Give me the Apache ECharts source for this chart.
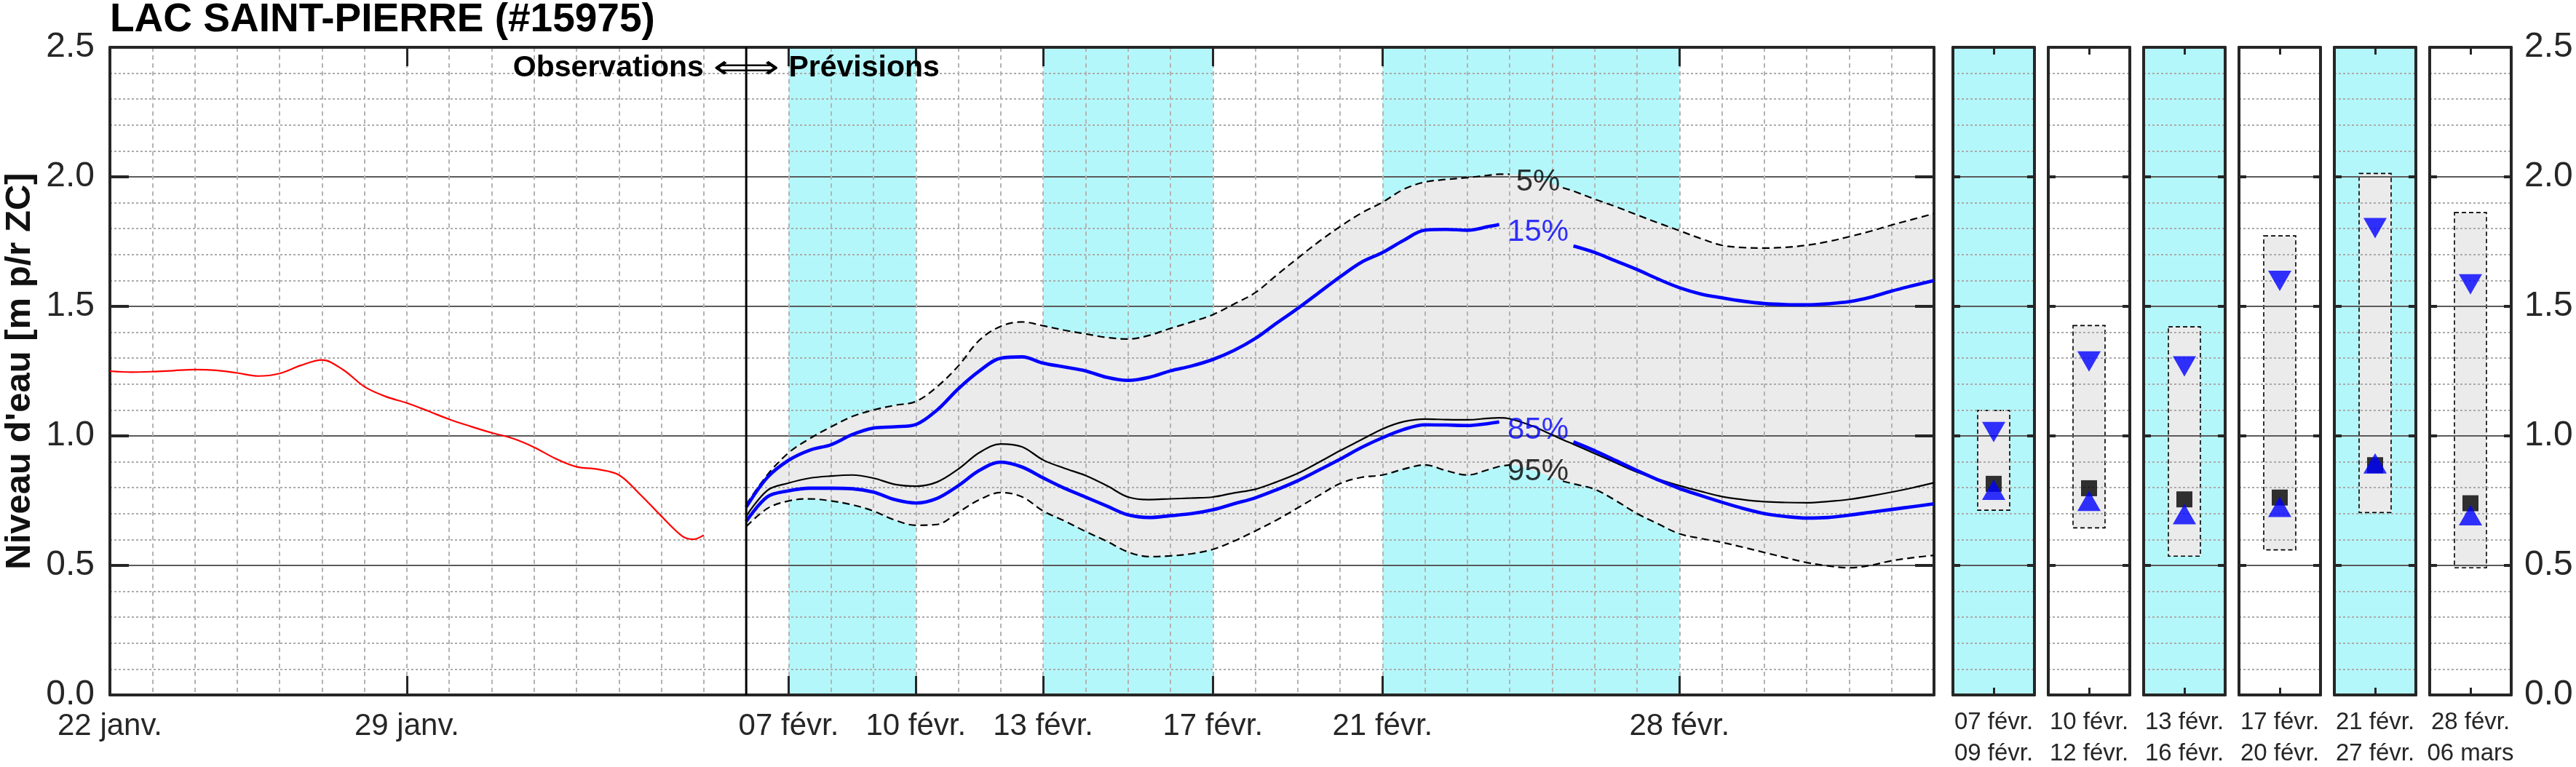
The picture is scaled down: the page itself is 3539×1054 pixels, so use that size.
<!DOCTYPE html>
<html><head><meta charset="utf-8">
<script src="https://cdn.jsdelivr.net/npm/echarts@6/dist/echarts.min.js"></script>
<style>html,body{margin:0;padding:0;background:#fff}#c{width:3539px;height:1054px}</style>
</head><body><div id="c"></div>
<script>
// ---------------- DATA ----------------
const YEAR = 2025;
const titleText = 'LAC SAINT-PIERRE (#15975)';
const yTitle = "Niveau d'eau [m p/r ZC]";
const axisStart = '01-22 00';
const axisEnd = '03-06 00';
const yMin = 0, yMax = 2.5, yStep = 0.5, yMinorSplit = 5;
const tickDates = ['01-22 00','01-29 00','02-07 00','02-10 00','02-13 00','02-17 00','02-21 00','02-28 00'];
const tickLabels = ['22 janv.','29 janv.','07 févr.','10 févr.','13 févr.','17 févr.','21 févr.','28 févr.'];
const forecastStart = '02-06 00';
const shadedPeriods = [['02-07 00','02-10 00'],['02-13 00','02-17 00'],['02-21 00','02-28 00']];

const obsTimes = ['01-22 00','01-22 12','01-23 00','01-23 12','01-24 00','01-24 12','01-25 00','01-25 12','01-26 00','01-26 12',
  '01-27 00','01-27 12','01-28 00','01-28 12','01-29 00','01-29 12','01-30 00','01-30 12','01-31 00','01-31 12',
  '02-01 00','02-01 12','02-02 00','02-02 12','02-03 00','02-03 12','02-04 00','02-04 12','02-04 18','02-05 00'];
const obsLevel = [1.250,1.246,1.248,1.252,1.256,1.253,1.243,1.231,1.241,1.272,
  1.293,1.255,1.190,1.152,1.127,1.096,1.064,1.037,1.012,0.990,
  0.956,0.913,0.881,0.871,0.849,0.774,0.690,0.612,0.601,0.617];

const fcTimes = ['02-06 00','02-06 12','02-07 00','02-07 12','02-08 00','02-08 12','02-09 00','02-09 12','02-10 00','02-10 12',
  '02-11 00','02-11 12','02-12 00','02-12 12','02-13 00','02-13 12','02-14 00','02-14 12','02-15 00','02-15 12',
  '02-16 00','02-16 12','02-17 00','02-17 12','02-18 00','02-18 12','02-19 00','02-19 12','02-20 00','02-20 12',
  '02-21 00','02-21 12','02-22 00','02-22 12','02-23 00','02-23 12','02-23 18','02-24 00','02-24 12','02-25 00',
  '02-25 06','02-25 12','02-26 00','02-26 12','02-27 00','02-27 12','02-28 00','02-28 12','03-01 00','03-01 12',
  '03-02 00','03-02 12','03-03 00','03-03 12','03-04 00','03-04 12','03-05 00','03-05 12','03-06 00'];
const p5 = [0.735,0.85,0.935,0.99,1.035,1.075,1.10,1.118,1.133,1.19,
  1.27,1.37,1.423,1.44,1.425,1.408,1.394,1.38,1.374,1.388,
  1.415,1.44,1.468,1.509,1.553,1.62,1.686,1.75,1.808,1.86,
  1.902,1.952,1.98,1.99,1.997,2.006,2.01,2.01,2.0,1.975,
  1.958,1.945,1.914,1.885,1.853,1.822,1.792,1.762,1.736,1.727,
  1.725,1.728,1.736,1.75,1.769,1.79,1.814,1.836,1.858];
const p15 = [0.725,0.84,0.906,0.945,0.966,1.005,1.03,1.035,1.044,1.10,
  1.182,1.251,1.30,1.305,1.281,1.266,1.251,1.226,1.214,1.226,
  1.251,1.27,1.295,1.33,1.376,1.435,1.492,1.553,1.614,1.67,
  1.708,1.755,1.794,1.797,1.794,1.808,1.816,1.82,1.81,1.78,
  1.755,1.733,1.708,1.675,1.642,1.605,1.572,1.548,1.533,1.52,
  1.511,1.507,1.506,1.51,1.518,1.535,1.559,1.58,1.60];
const pMid = [0.69,0.79,0.818,0.837,0.845,0.849,0.837,0.813,0.806,0.822,
  0.872,0.936,0.969,0.958,0.907,0.875,0.847,0.808,0.764,0.754,
  0.757,0.76,0.764,0.78,0.794,0.822,0.855,0.898,0.943,0.985,
  1.027,1.055,1.065,1.063,1.062,1.068,1.07,1.066,1.04,1.004,
  0.985,0.968,0.932,0.896,0.86,0.833,0.808,0.786,0.766,0.754,
  0.746,0.743,0.742,0.747,0.755,0.768,0.783,0.80,0.819];
const p85 = [0.67,0.765,0.788,0.798,0.798,0.796,0.783,0.754,0.741,0.759,
  0.808,0.867,0.899,0.88,0.838,0.798,0.764,0.729,0.695,0.685,
  0.692,0.70,0.715,0.738,0.761,0.792,0.827,0.868,0.91,0.955,
  0.993,1.025,1.043,1.042,1.04,1.048,1.054,1.05,1.03,1.005,
  0.99,0.977,0.943,0.905,0.866,0.83,0.797,0.77,0.744,0.72,
  0.70,0.689,0.683,0.685,0.694,0.705,0.716,0.727,0.738];
const p95 = [0.65,0.72,0.749,0.757,0.749,0.734,0.71,0.675,0.655,0.658,
  0.705,0.754,0.781,0.765,0.71,0.672,0.631,0.593,0.552,0.534,
  0.537,0.545,0.562,0.594,0.633,0.675,0.722,0.77,0.816,0.84,
  0.849,0.872,0.888,0.866,0.849,0.87,0.882,0.888,0.87,0.84,
  0.825,0.815,0.794,0.75,0.70,0.66,0.622,0.604,0.589,0.57,
  0.55,0.53,0.511,0.498,0.491,0.50,0.518,0.53,0.539];
// label gaps (open intervals where the curve is interrupted by its label)
const gap5 = ['02-24 00','02-25 06'];
const gap15 = ['02-23 18','02-25 12'];
const gap85 = ['02-23 18','02-25 12'];
const gap95 = ['02-24 00','02-25 06'];
const pctText = ['5%','15%','85%','95%'];
const pctTime = ['02-24 16','02-24 16','02-24 16','02-24 16'];
const pctLevel = [1.98, 1.784, 1.021, 0.86];

const periodLabels = ['07 févr.\n09 févr.','10 févr.\n12 févr.','13 févr.\n16 févr.','17 févr.\n20 févr.','21 févr.\n27 févr.','28 févr.\n06 mars'];
const periodHigh = [1.098, 1.426, 1.421, 1.772, 2.013, 1.862];
const periodLow = [0.713, 0.645, 0.536, 0.560, 0.704, 0.491];
const period15 = [1.015, 1.287, 1.268, 1.598, 1.802, 1.585];
const periodMid = [0.815, 0.798, 0.755, 0.762, 0.887, 0.740];
const period85 = [0.792, 0.749, 0.698, 0.726, 0.894, 0.694];
const periodShaded = [true, false, true, false, true, false];

// ---------------- HELPERS ----------------
function toMs(s){ const [md,h] = s.split(' '); const [M,D] = md.split('-').map(Number); return Date.UTC(YEAR, M-1, D, +h); }
const T0 = toMs(axisStart);
function dayOf(s){ return (toMs(s) - T0) / 864e5; }
const nDays = Math.round(dayOf(axisEnd));
const dayCats = Array.from({length: nDays + 1}, (_, i) => String(i));
const labelOf = {};
tickDates.forEach((t, i) => { labelOf[Math.round(dayOf(t))] = tickLabels[i]; });
const fcX = fcTimes.map(dayOf);
function gapped(vals, gap){
  const a = dayOf(gap[0]), b = dayOf(gap[1]);
  return fcX.map((x, i) => (x > a + 1e-9 && x < b - 1e-9) ? [x, '-'] : [x, vals[i]]);
}

const FONT = 'Liberation Sans, Arial, sans-serif';
const DARK = '#262626';
const CYAN = '#b4f7fa';
const MAJOR = {color:'#5a5a5a', width:2};
const MINOR = {color:'#ababab', width:2, type:[3,3]};
const SM = 0.35;

// ---------------- LAYOUT ----------------
const mainGrid = {left:151, top:65, width:2506, height:890};
const panelLeft0 = 2683, panelStep = 131, panelW = 112;

const grids = [Object.assign({show:false, z:-10, outerBoundsMode:'none', containLabel:false}, mainGrid)];
const xAxes = [
  {gridIndex:0, type:'value', min:0, max:nDays, interval:1, position:'top',
   axisLine:{show:false, onZero:false}, axisTick:{show:false}, axisLabel:{show:false},
   splitLine:{show:true, lineStyle:{color:'#b3b3b3', width:2, type:[6,5]}}},
  {gridIndex:0, type:'category', data:dayCats, boundaryGap:false, position:'bottom',
   axisLine:{show:true, onZero:false, lineStyle:{color:DARK, width:4}},
   axisTick:{show:true, inside:true, length:26, interval:(i)=>labelOf[i]!==undefined, lineStyle:{color:DARK, width:3}},
   axisLabel:{show:true, interval:(i)=>labelOf[i]!==undefined, formatter:(v)=>labelOf[+v] || '', fontSize:42, color:DARK, margin:22, fontFamily:FONT},
   splitLine:{show:false}},
  {gridIndex:0, type:'category', data:dayCats, boundaryGap:false, position:'top',
   axisLine:{show:true, onZero:false, lineStyle:{color:DARK, width:4}},
   axisTick:{show:true, inside:true, length:26, interval:(i)=>labelOf[i]!==undefined, lineStyle:{color:DARK, width:3}},
   axisLabel:{show:false}, splitLine:{show:false}}
];
const yAxes = [
  {gridIndex:0, type:'value', min:yMin, max:yMax, interval:yStep, position:'left',
   axisLine:{show:true, onZero:false, lineStyle:{color:DARK, width:4}},
   axisTick:{show:true, inside:true, length:26, lineStyle:{color:DARK, width:4}},
   axisLabel:{show:true, fontSize:48, color:DARK, margin:21, fontFamily:FONT, formatter:v=>v.toFixed(1)},
   splitLine:{show:true, lineStyle:MAJOR},
   minorTick:{show:false, splitNumber:yMinorSplit}, minorSplitLine:{show:true, lineStyle:MINOR}},
  {gridIndex:0, type:'value', min:yMin, max:yMax, interval:yStep, position:'right',
   axisLine:{show:true, onZero:false, lineStyle:{color:DARK, width:4}},
   axisTick:{show:true, inside:true, length:26, lineStyle:{color:DARK, width:4}},
   axisLabel:{show:false}, splitLine:{show:false}}
];

const series = [];
// shaded periods
series.push({type:'custom', xAxisIndex:0, yAxisIndex:0, z:-8, silent:true,
  data: shadedPeriods.map(p => [dayOf(p[0]), dayOf(p[1])]),
  renderItem:(params, api) => {
    const cs = params.coordSys;
    const x0 = api.coord([api.value(0), yMin])[0], x1 = api.coord([api.value(1), yMin])[0];
    return {type:'rect', shape:{x:x0, y:cs.y, width:x1 - x0, height:cs.height}, style:{fill:CYAN}};
  }});
// 5-95 band: stacked on the level dimension (level first in each item, time mapped via encode)
series.push({type:'line', xAxisIndex:0, yAxisIndex:0, stack:'band', smooth:SM, symbol:'none', silent:true, z:-5,
  encode:{x:1, y:0}, lineStyle:{width:0, opacity:0}, data: fcX.map((x, i) => [p95[i], x])});
series.push({type:'line', xAxisIndex:0, yAxisIndex:0, stack:'band', smooth:SM, symbol:'none', silent:true, z:-5,
  encode:{x:1, y:0}, lineStyle:{width:0, opacity:0}, areaStyle:{color:'#ebebeb', opacity:1},
  data: fcX.map((x, i) => [+(p5[i] - p95[i]).toFixed(4), x])});
// observations
series.push({type:'line', xAxisIndex:0, yAxisIndex:0, smooth:SM, symbol:'none', z:3,
  lineStyle:{color:'#ff0000', width:2.2}, data: obsTimes.map((t, i) => [dayOf(t), obsLevel[i]])});
// forecast curves
series.push({type:'line', xAxisIndex:0, yAxisIndex:0, smooth:SM, symbol:'none', z:3,
  lineStyle:{color:'#000', width:2.2, type:[10,6]}, data: gapped(p5, gap5)});
series.push({type:'line', xAxisIndex:0, yAxisIndex:0, smooth:SM, symbol:'none', z:3,
  lineStyle:{color:'#000', width:2.2, type:[10,6]}, data: gapped(p95, gap95)});
series.push({type:'line', xAxisIndex:0, yAxisIndex:0, smooth:SM, symbol:'none', z:3,
  lineStyle:{color:'#000', width:2.2}, data: fcX.map((x, i) => [x, pMid[i]])});
series.push({type:'line', xAxisIndex:0, yAxisIndex:0, smooth:SM, symbol:'none', z:4,
  lineStyle:{color:'#0000ff', width:4.6}, data: gapped(p15, gap15)});
series.push({type:'line', xAxisIndex:0, yAxisIndex:0, smooth:SM, symbol:'none', z:4,
  lineStyle:{color:'#0000ff', width:4.6}, data: gapped(p85, gap85)});
// divider
series.push({type:'line', xAxisIndex:0, yAxisIndex:0, symbol:'none', z:5, silent:true,
  lineStyle:{color:'#000', width:3}, data:[[dayOf(forecastStart), yMin], [dayOf(forecastStart), yMax]]});
// percentile labels
const pctColor = ['#000', '#0000ff', '#0000ff', '#000'];
series.push({type:'scatter', xAxisIndex:0, yAxisIndex:0, symbolSize:1, z:6, silent:true,
  itemStyle:{color:'rgba(0,0,0,0)'},
  label:{show:true, position:'inside', fontSize:42, fontFamily:FONT},
  data: pctText.map((t, i) => ({value:[dayOf(pctTime[i]), pctLevel[i]], label:{formatter:t, color:pctColor[i]}}))});

// side panels
periodLabels.forEach((lab, k) => {
  const g = k + 1;
  grids.push({left: panelLeft0 + k * panelStep, top: mainGrid.top, width: panelW, height: mainGrid.height,
    show:true, backgroundColor: periodShaded[k] ? CYAN : '#ffffff', borderWidth:0, z:-10, outerBoundsMode:'none', containLabel:false});
  const xb = xAxes.length, yl = yAxes.length;
  xAxes.push({gridIndex:g, type:'category', data:[lab], boundaryGap:true, position:'bottom',
    axisLine:{show:true, onZero:false, lineStyle:{color:DARK, width:4}},
    axisTick:{show:true, inside:true, alignWithLabel:true, length:10, lineStyle:{color:DARK, width:3}},
    axisLabel:{show:true, fontSize:33, lineHeight:43, color:DARK, margin:16, fontFamily:FONT, interval:0},
    splitLine:{show:false}});
  xAxes.push({gridIndex:g, type:'category', data:[lab], boundaryGap:true, position:'top',
    axisLine:{show:true, onZero:false, lineStyle:{color:DARK, width:4}},
    axisTick:{show:true, inside:true, alignWithLabel:true, length:10, lineStyle:{color:DARK, width:3}},
    axisLabel:{show:false}, splitLine:{show:false}});
  yAxes.push({gridIndex:g, type:'value', min:yMin, max:yMax, interval:yStep, position:'left',
    axisLine:{show:true, onZero:false, lineStyle:{color:DARK, width:4}},
    axisTick:{show:true, inside:true, length:10, lineStyle:{color:DARK, width:4}},
    axisLabel:{show:false}, splitLine:{show:true, lineStyle:MAJOR},
    minorTick:{show:false, splitNumber:yMinorSplit}, minorSplitLine:{show:true, lineStyle:MINOR}});
  const last = k === periodLabels.length - 1;
  yAxes.push({gridIndex:g, type:'value', min:yMin, max:yMax, interval:yStep, position:'right',
    axisLine:{show:true, onZero:false, lineStyle:{color:DARK, width:4}},
    axisTick:{show:true, inside:true, length:10, lineStyle:{color:DARK, width:4}},
    axisLabel: last ? {show:true, fontSize:48, color:DARK, margin:18, fontFamily:FONT, formatter:v=>v.toFixed(1)} : {show:false},
    splitLine:{show:false}});
  series.push({type:'custom', xAxisIndex:xb, yAxisIndex:yl, z:-5, silent:true,
    data:[[0, periodLow[k], periodHigh[k]]],
    renderItem:(params, api) => {
      const top = api.coord([api.value(0), api.value(2)]);
      const bot = api.coord([api.value(0), api.value(1)]);
      return {type:'rect', shape:{x: top[0] - 22, y: top[1], width: 44, height: bot[1] - top[1]},
        style:{fill:'#ebebeb', stroke:'#000', lineWidth:1.6, lineDash:[6,4]}};
    }});
  series.push({type:'scatter', xAxisIndex:xb, yAxisIndex:yl, z:3, silent:true, symbol:'rect', symbolSize:22,
    itemStyle:{color:'#000'}, data:[[0, periodMid[k]]]});
  series.push({type:'scatter', xAxisIndex:xb, yAxisIndex:yl, z:4, silent:true, symbol:'triangle', symbolSize:[32,28],
    itemStyle:{color:'#0000ff'}, data:[[0, period85[k]]]});
  series.push({type:'scatter', xAxisIndex:xb, yAxisIndex:yl, z:4, silent:true, symbol:'triangle', symbolRotate:180, symbolSize:[32,28],
    itemStyle:{color:'#0000ff'}, data:[[0, period15[k]]]});
});

const chart = echarts.init(document.getElementById('c'), null, {renderer:'canvas'});
chart.setOption({
  animation:false,
  backgroundColor:'#ffffff',
  textStyle:{fontFamily:FONT},
  grid:grids, xAxis:xAxes, yAxis:yAxes, series:series
});

// annotations positioned from the axes
const px = (d, v) => chart.convertToPixel({xAxisIndex:0, yAxisIndex:0}, [d, v]);
const div = px(dayOf(forecastStart), 2.42);
const oneDay = px(1, 0)[0] - px(0, 0)[0];
chart.setOption({graphic:{elements:[
  {type:'text', x:151, y:28, style:{text:titleText, font:'bold 55px ' + FONT, fill:'#000', align:'left', verticalAlign:'middle'}},
  {type:'text', x:27, y:mainGrid.top + mainGrid.height/2, rotation:Math.PI/2,
   style:{text:yTitle, font:'bold 49px ' + FONT, fill:'#111', align:'center', verticalAlign:'middle'}},
  {type:'text', x:div[0] - oneDay, y:div[1], z:10, style:{text:'Observations', font:'bold 41px ' + FONT, fill:'#000', align:'right', verticalAlign:'middle'}},
  {type:'text', x:div[0], y:div[1] + 2, z:10, scaleX:1.45, style:{text:'\u27FA', font:'44px DejaVu Sans, ' + FONT, fill:'#000', align:'center', verticalAlign:'middle'}},
  {type:'text', x:div[0] + oneDay, y:div[1], z:10, style:{text:'Prévisions', font:'bold 41px ' + FONT, fill:'#000', align:'left', verticalAlign:'middle'}}
]}});
</script>
</body></html>
